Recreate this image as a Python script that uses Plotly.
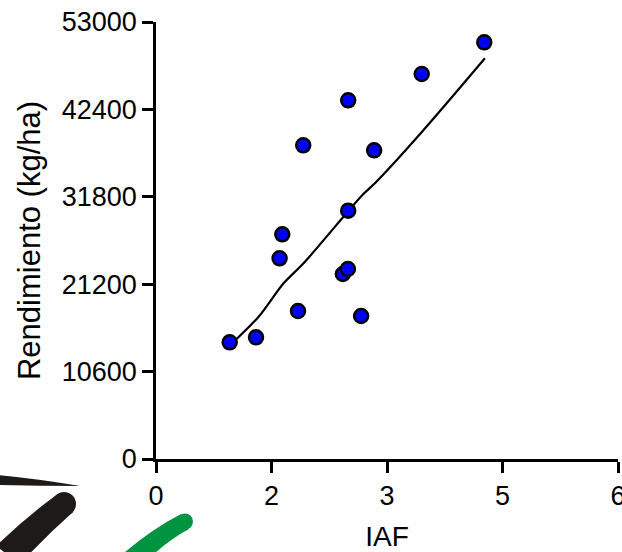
import plotly.graph_objects as go

# ---- data ----
iaf = [0.957, 1.299, 1.605, 1.640, 1.844, 1.912, 2.427, 2.492, 2.496, 2.496, 2.664, 2.833, 3.451, 4.263]
rend = [14154, 14760, 24341, 27252, 17950, 38046, 22437, 23043, 30114, 43504, 17343, 37440, 46693, 50538]

fit_x = [1.009, 1.333, 1.657, 1.916, 2.479, 2.681, 2.859, 3.464, 4.272]
fit_y = [14226, 17258, 21309, 23735, 29872, 32018, 33595, 39780, 48596]

x_tickvals = [0, 1.5, 3, 4.5, 6]
x_ticktext = ["0", "2", "3", "5", "6"]
y_tickvals = [0, 10600, 21200, 31800, 42400, 53000]
y_ticktext = ["0", "10600", "21200", "31800", "42400", "53000"]

W, H = 622, 552
ML, MR, MT, MB = 156, 4, 22, 93
PW, PH = W - ML - MR, H - MT - MB

fig = go.Figure()
fig.add_trace(go.Scatter(x=fit_x, y=fit_y, mode="lines",
                         line=dict(color="black", width=2.2, shape="spline", smoothing=0.8),
                         hoverinfo="skip", showlegend=False))
fig.add_trace(go.Scatter(x=iaf, y=rend, mode="markers",
                         marker=dict(size=14, color="#0000FF", line=dict(color="black", width=2.5)),
                         showlegend=False, cliponaxis=False))

font = "Liberation Sans, Arial, sans-serif"


def P(px, py):
    return f"{(px - ML) / PW:.5f},{(H - MB - py) / PH:.5f}"


def circle(cx, cy, r, color):
    return dict(type="circle", xref="paper", yref="paper",
                x0=(cx - r - ML) / PW, x1=(cx + r - ML) / PW,
                y0=(H - MB - cy - r) / PH, y1=(H - MB - cy + r) / PH,
                fillcolor=color, line=dict(width=0), layer="above")


black = "#1e1a18"
green = "#009440"
shapes = []
# thin tapered black swoosh
shapes.append(dict(type="path", xref="paper", yref="paper",
                   path=f"M {P(-2,475)} Q {P(40,479)} {P(80,486)} Q {P(40,486)} {P(-2,485)} Z",
                   fillcolor=black, line=dict(width=0)))
# thick black stroke
shapes.append(dict(type="path", xref="paper", yref="paper",
                   path=f"M {P(55,496)} Q {P(25,518)} {P(-4,546)} L {P(20,564)} Q {P(46,536)} {P(73,512)} Z",
                   fillcolor=black, line=dict(width=0)))
shapes.append(circle(64, 504, 12, black))
# green stroke
shapes.append(dict(type="path", xref="paper", yref="paper",
                   path=f"M {P(181,514)} Q {P(150,530)} {P(118,558)} L {P(142,566)} Q {P(163,543)} {P(189,529)} Z",
                   fillcolor=green, line=dict(width=0)))
shapes.append(circle(185, 521.5, 8, green))

fig.update_layout(
    width=W, height=H,
    margin=dict(l=ML, r=MR, t=MT, b=MB, autoexpand=False),
    paper_bgcolor="white", plot_bgcolor="white",
    font=dict(family=font, color="black"),
    shapes=shapes,
    xaxis=dict(range=[0, 6], tickvals=x_tickvals, ticktext=x_ticktext,
               showgrid=False, zeroline=False, showline=True, linecolor="black", linewidth=2.5,
               ticks="outside", ticklen=11, tickwidth=2.5, tickcolor="black",
               tickfont=dict(size=27, family=font), ticklabeloverflow="allow",
               title=dict(text="IAF", font=dict(size=28, family=font), standoff=20),
               automargin=False),
    yaxis=dict(range=[0, 53000], tickvals=y_tickvals, ticktext=y_ticktext,
               showgrid=False, zeroline=False, showline=True, linecolor="black", linewidth=2.5,
               ticks="outside", ticklen=11, tickwidth=2.5, tickcolor="black",
               tickfont=dict(size=27, family=font),
               title=dict(text="Rendimiento (kg/ha)", font=dict(size=31, family=font), standoff=12),
               automargin=False),
)

fig.write_html("out.html")
